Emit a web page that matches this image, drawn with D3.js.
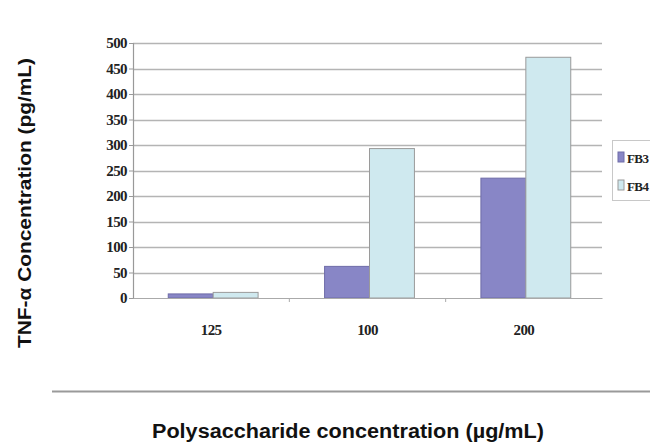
<!DOCTYPE html>
<html>
<head>
<meta charset="utf-8">
<script src="https://cdn.jsdelivr.net/npm/d3@7"></script>
<style>
  html, body { margin: 0; padding: 0; background: #fff; overflow: hidden; }
  svg { display: block; }
</style>
</head>
<body>
<svg id="chart" width="650" height="444"></svg>
<script>
// TNF-alpha release by polysaccharide fraction and dose
const categories = ["125", "100", "200"];
const seriesNames = ["FB3", "FB4"];
const fb3Values = [8, 62, 235];
const fb4Values = [11, 293, 472];
const yTicks = [0, 50, 100, 150, 200, 250, 300, 350, 400, 450, 500];

const colors = { FB3: "#8886c6", FB4: "#cfe9ef" };
const strokes = { FB3: "#6f6ca8", FB4: "#9a9a9a" };

const svg = d3.select("#chart");
const plot = { left: 133, right: 602, top: 43, bottom: 298 };

const x = d3.scaleBand().domain(categories).range([plot.left, plot.right]).paddingInner(0).paddingOuter(0);
const xs = d3.scaleBand().domain(seriesNames).range([0, x.bandwidth()]).paddingInner(0).paddingOuter(0.74);
const y = d3.scaleLinear().domain([0, 500]).range([plot.bottom, plot.top]);

// horizontal gridlines
svg.append("g").selectAll("line").data(yTicks.filter(d => d > 0)).join("line")
  .attr("x1", plot.left).attr("x2", plot.right)
  .attr("y1", d => Math.round(y(d)) + 0.5).attr("y2", d => Math.round(y(d)) + 0.5)
  .attr("stroke", "#b4b4b4").attr("stroke-width", 1.5);

// bars
const rows = categories.map((c, i) => ({ cat: c, FB3: fb3Values[i], FB4: fb4Values[i] }));
const groups = svg.append("g").selectAll("g").data(rows).join("g")
  .attr("transform", d => `translate(${x(d.cat) + 2},0)`);
groups.selectAll("rect").data(d => seriesNames.map(s => ({ s, v: d[s] }))).join("rect")
  .attr("x", d => xs(d.s))
  .attr("width", xs.bandwidth())
  .attr("y", d => y(d.v))
  .attr("height", d => y(0) - y(d.v))
  .attr("fill", d => colors[d.s])
  .attr("stroke", d => strokes[d.s])
  .attr("stroke-width", 1);

const tickFont = sel => sel
  .attr("font-family", "Liberation Serif, serif")
  .attr("font-size", 15)
  .attr("font-weight", "bold")
  .attr("letter-spacing", -0.6)
  .attr("fill", "#222");

// y axis
const yAxis = d3.axisLeft(y).tickValues(yTicks).tickSize(4).tickPadding(2);
const gy = svg.append("g").attr("transform", `translate(${plot.left},0)`).call(yAxis);
gy.select(".domain").attr("stroke", "#999").attr("stroke-width", 1.2);
gy.selectAll(".tick line").attr("stroke", "#999");
gy.selectAll(".tick text").call(tickFont);

// x axis
const xAxis = d3.axisBottom(x).tickSize(0).tickPadding(26);
const gx = svg.append("g").attr("transform", `translate(0,${plot.bottom})`).call(xAxis);
gx.select(".domain").attr("stroke", "#aaa").attr("stroke-width", 1.2);
gx.selectAll(".tick text").call(tickFont);
// category boundary ticks
svg.append("g").selectAll("line").data(categories.slice(1)).join("line")
  .attr("x1", d => x(d)).attr("x2", d => x(d))
  .attr("y1", plot.bottom).attr("y2", plot.bottom + 4)
  .attr("stroke", "#aaa");

// legend (runs past the right edge)
const lg = svg.append("g").attr("transform", "translate(612,140)");
lg.append("rect").attr("x", 0.5).attr("y", 0.5).attr("width", 60).attr("height", 60)
  .attr("fill", "#fff").attr("stroke", "#c8c8c8");
seriesNames.forEach((s, i) => {
  lg.append("rect").attr("x", 6).attr("y", 12 + i * 28).attr("width", 6).attr("height", 10)
    .attr("fill", colors[s]).attr("stroke", strokes[s]);
  lg.append("text").attr("x", 15).attr("y", 23 + i * 28)
    .attr("font-family", "Liberation Serif, serif").attr("font-size", 13)
    .attr("font-weight", "bold")
    .attr("letter-spacing", -0.6).attr("fill", "#222").text(s);
});

// axis titles
svg.append("text")
  .attr("transform", "translate(31,203) rotate(-90)")
  .attr("text-anchor", "middle")
  .attr("font-family", "Liberation Sans, Arial, sans-serif")
  .attr("font-weight", "bold").attr("font-size", 18).attr("fill", "#111")
  .attr("textLength", 290).attr("lengthAdjust", "spacingAndGlyphs")
  .text("TNF-α  Concentration (pg/mL)");

// separator rule above the x title
svg.append("line").attr("x1", 52).attr("x2", 650).attr("y1", 391.5).attr("y2", 391.5)
  .attr("stroke", "#9a9a9a").attr("stroke-width", 2);

svg.append("text")
  .attr("x", 348).attr("y", 438)
  .attr("text-anchor", "middle")
  .attr("font-family", "Liberation Sans, Arial, sans-serif")
  .attr("font-weight", "bold").attr("font-size", 19.5).attr("fill", "#111")
  .attr("textLength", 392).attr("lengthAdjust", "spacingAndGlyphs")
  .text("Polysaccharide concentration (µg/mL)");
</script>
</body>
</html>
